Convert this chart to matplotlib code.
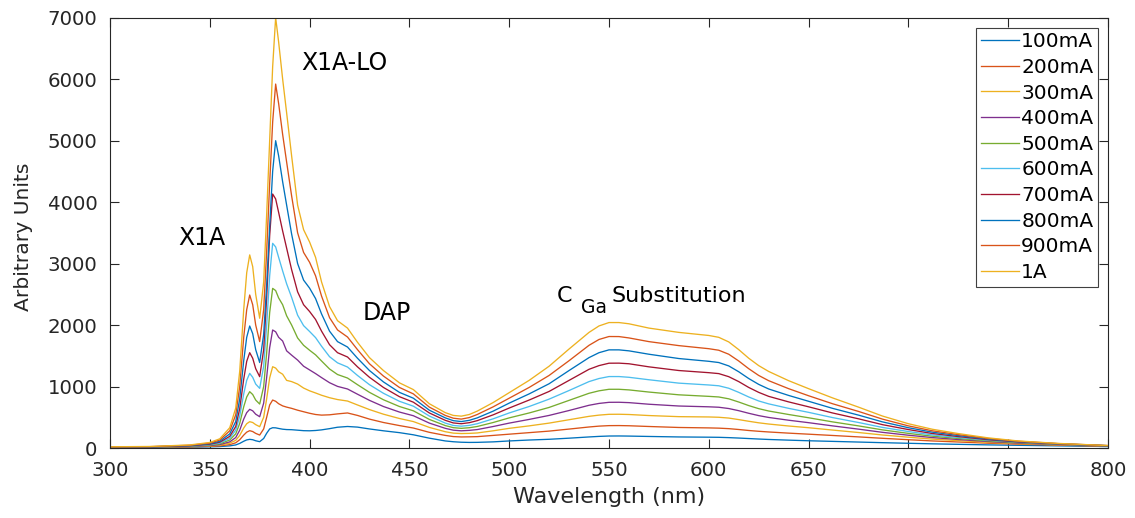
import matplotlib
matplotlib.use("Agg")
import matplotlib.pyplot as plt

# Wavelength grid (nm) shared by all spectra
wavelength = [300, 320, 340, 350, 355, 360, 363, 365, 367, 368.5,
              370, 371.5, 373, 375,
              377, 378.5, 380, 381.5, 383, 384.5, 386.5, 388.5, 391, 394, 397, 400, 403, 406, 410, 414,
              419, 424, 430, 437, 445, 452, 460, 468, 472, 476, 480,
              484, 492, 500, 510, 520, 530, 540, 545, 550, 555, 560, 570, 585, 600, 605, 610, 615, 620,
              625, 630, 640, 650, 662, 675, 687, 700, 712, 725, 740, 755, 775, 800]

# Luminescence intensity (arbitrary units) for each drive current
i_100mA = [8, 10, 14, 19, 24, 35, 50, 75, 110, 132,
           141, 135, 118, 103,
           155, 240, 310, 330, 328, 318, 306, 300, 298, 290, 282, 280, 285, 295, 315, 338,
           350, 340, 310, 280, 250, 215, 160, 115, 102, 94, 91,
           92, 100, 115, 130, 142, 160, 180, 189, 195, 196, 194, 188, 180, 176, 174, 169, 162, 154,
           146, 139, 128, 118, 108, 97, 87, 77, 68, 60, 51, 44, 35, 24]

i_200mA = [10, 12, 18, 27, 35, 55, 85, 135, 210, 258,
           282, 268, 238, 211,
           310, 500, 700, 780, 760, 720, 685, 665, 645, 615, 590, 565, 545, 535, 540, 555,
           570, 530, 470, 415, 365, 325, 255, 205, 186, 180, 182,
           185, 205, 225, 250, 275, 308, 342, 356, 364, 365, 362, 350, 334, 327, 323, 315, 301, 285,
           272, 261, 242, 225, 204, 181, 158, 135, 115, 98, 78, 63, 47, 29]

i_300mA = [11, 14, 22, 34, 46, 78, 125, 205, 325, 395,
           428, 415, 380, 347,
           500, 800, 1140, 1322, 1300, 1240, 1200, 1100, 1080, 1040, 975, 930, 895, 858, 818, 788,
           764, 700, 625, 550, 480, 430, 335, 265, 242, 235, 238,
           245, 280, 320, 360, 405, 460, 515, 535, 548, 549, 545, 528, 510, 505, 500, 487, 462, 435,
           410, 390, 358, 330, 292, 252, 212, 176, 145, 120, 92, 72, 52, 31]

i_400mA = [12, 15, 25, 40, 56, 100, 170, 290, 470, 575,
           629, 605, 550, 509,
           730, 1150, 1630, 1919, 1890, 1800, 1740, 1580, 1510, 1430, 1330, 1270, 1210, 1145, 1062, 1002,
           960, 875, 775, 675, 585, 525, 405, 320, 290, 280, 287,
           300, 350, 405, 465, 530, 610, 695, 725, 743, 744, 738, 712, 683, 670, 663, 642, 607, 565,
           527, 497, 452, 412, 360, 307, 255, 208, 170, 138, 105, 80, 57, 33]

i_500mA = [13, 16, 28, 48, 68, 130, 230, 400, 670, 830,
           916, 870, 780, 715,
           1000, 1550, 2200, 2596, 2560, 2440, 2330, 2150, 2000, 1790, 1670, 1590, 1515, 1415, 1285, 1195,
           1138, 1030, 905, 785, 675, 605, 465, 365, 331, 320, 330,
           350, 415, 490, 570, 660, 775, 890, 930, 955, 955, 945, 910, 865, 840, 830, 800, 748, 690,
           640, 602, 545, 492, 425, 360, 295, 238, 192, 155, 116, 88, 61, 35]

i_600mA = [14, 17, 32, 55, 80, 160, 290, 520, 880, 1100,
           1214, 1150, 1040, 970,
           1330, 2000, 2800, 3328, 3270, 3100, 2880, 2670, 2450, 2160, 1990, 1895, 1795, 1655, 1485, 1385,
           1317, 1180, 1030, 890, 760, 680, 520, 405, 367, 355, 368,
           395, 475, 570, 675, 795, 935, 1080, 1130, 1162, 1162, 1150, 1110, 1055, 1025, 1012, 972, 905, 830,
           765, 718, 645, 580, 495, 415, 335, 268, 213, 170, 127, 95, 65, 36]

i_700mA = [15, 18, 36, 62, 95, 190, 350, 640, 1120, 1410,
           1550, 1460, 1290, 1160,
           1600, 2450, 3450, 4130, 4050, 3830, 3530, 3250, 2900, 2540, 2330, 2220, 2090, 1900, 1680, 1550,
           1480, 1320, 1150, 985, 835, 745, 570, 450, 408, 395, 412,
           445, 540, 650, 780, 920, 1100, 1280, 1340, 1379, 1380, 1370, 1320, 1260, 1225, 1210, 1160, 1080, 985,
           905, 840, 750, 670, 570, 475, 380, 300, 236, 186, 135, 98, 67, 37]

i_800mA = [16, 20, 40, 70, 110, 230, 430, 800, 1420, 1800,
           1984, 1860, 1600, 1390,
           1850, 2650, 3600, 4500, 4997, 4750, 4330, 3950, 3480, 3000, 2730, 2600, 2430, 2180, 1900, 1730,
           1642, 1460, 1260, 1075, 905, 810, 615, 490, 445, 430, 450,
           490, 600, 730, 880, 1045, 1260, 1470, 1550, 1596, 1596, 1580, 1525, 1455, 1410, 1390, 1335, 1240, 1130,
           1035, 960, 855, 760, 645, 535, 425, 330, 258, 202, 145, 104, 70, 38]

i_900mA = [18, 22, 45, 80, 130, 280, 540, 1000, 1800, 2250,
           2488, 2330, 2000, 1730,
           2250, 3200, 4300, 5300, 5918, 5600, 5100, 4650, 4100, 3500, 3180, 3020, 2800, 2470, 2120, 1920,
           1805, 1600, 1370, 1170, 985, 880, 665, 530, 485, 470, 495,
           545, 670, 810, 985, 1180, 1420, 1670, 1765, 1813, 1812, 1790, 1730, 1665, 1615, 1590, 1525, 1415, 1290,
           1180, 1095, 965, 850, 720, 595, 470, 360, 280, 218, 155, 110, 72, 40]

i_1A = [20, 25, 50, 90, 150, 330, 650, 1250, 2250, 2850,
        3140, 2950, 2500, 2110,
        2700, 3800, 5000, 6200, 7000, 6600, 6000, 5450, 4750, 3950, 3550, 3350, 3100, 2700, 2300, 2070,
        1950, 1720, 1470, 1260, 1060, 950, 720, 575, 530, 518, 545,
        600, 740, 900, 1100, 1330, 1610, 1880, 1985, 2040, 2040, 2020, 1950, 1880, 1830, 1800, 1725, 1600, 1460,
        1340, 1245, 1095, 965, 815, 665, 520, 395, 305, 235, 165, 115, 75, 40]

series = [i_100mA, i_200mA, i_300mA, i_400mA, i_500mA,
          i_600mA, i_700mA, i_800mA, i_900mA, i_1A]
labels = ["100mA", "200mA", "300mA", "400mA", "500mA",
          "600mA", "700mA", "800mA", "900mA", "1A"]
colors = ["#0072BD", "#D95319", "#EDB120", "#7E2F8E", "#77AC30",
          "#4DBEEE", "#A2142F", "#0072BD", "#D95319", "#EDB120"]

plt.rcParams["font.family"] = ["DejaVu Sans"]
axis_gray = "#262626"

fig = plt.figure(figsize=(11.35, 5.18), dpi=100)
ax = fig.add_axes([0.0969, 0.1351, 0.8793, 0.8311])

for ys, lab, col in zip(series, labels, colors):
    ax.plot(wavelength, ys, color=col, lw=0.95, label=lab, solid_joinstyle="round")

ax.set_xlim(300, 800)
ax.set_ylim(0, 7000)
ax.set_xticks(list(range(300, 801, 50)))
ax.set_yticks(list(range(0, 7001, 1000)))
ax.tick_params(direction="in", top=True, right=True, length=6.5, width=0.8,
               color=axis_gray, labelcolor=axis_gray, labelsize=14.2, pad=9)
for sp in ax.spines.values():
    sp.set_color(axis_gray)
    sp.set_linewidth(0.8)

ax.set_xlabel("Wavelength (nm)", fontsize=16, color=axis_gray)
ax.xaxis.set_label_coords(0.5, -0.09)
ax.set_ylabel("Arbitrary Units", fontsize=14.6, color=axis_gray)
ax.yaxis.set_label_coords(-0.077, 0.49)

# Peak labels
ax.text(334.1, 3301, "X1A", fontsize=17, ha="left", va="baseline")
ax.text(395.7, 6146, "X1A-LO", fontsize=17, ha="left", va="baseline")
ax.text(426.8, 2081, "DAP", fontsize=17, ha="left", va="baseline")
ax.text(524.0, 2374, "C", fontsize=16, ha="left", va="baseline")
ax.text(536.0, 2195, "Ga", fontsize=13.5, ha="left", va="baseline")
ax.text(551.5, 2374, "Substitution", fontsize=16, ha="left", va="baseline")

leg = ax.legend(loc="upper right", fontsize=14.5, labelspacing=0.33, borderpad=0.23,
                handlelength=1.9, handletextpad=0.1, fancybox=False, framealpha=1,
                borderaxespad=0.5)
leg.get_frame().set_edgecolor("#404040")
leg.get_frame().set_linewidth(0.8)

fig.savefig("out.png", dpi=100)
